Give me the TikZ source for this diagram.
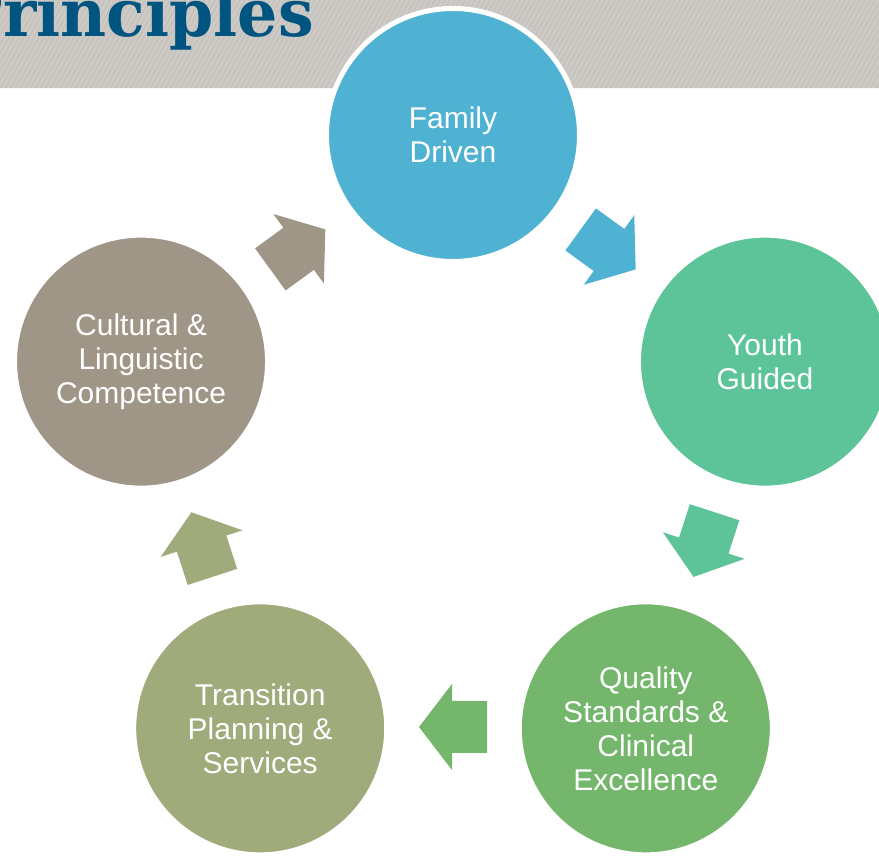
\documentclass[tikz,border=0pt]{standalone}
\usepackage{fontspec}
\setmainfont{Liberation Sans}
\newfontfamily\titlefont{DejaVu Serif}
\usetikzlibrary{calc}
\definecolor{cfam}{RGB}{79,178,210}
\definecolor{cyou}{RGB}{92,196,152}
\definecolor{cqua}{RGB}{116,183,108}
\definecolor{ctra}{RGB}{160,171,123}
\definecolor{ccul}{RGB}{160,150,135}
\definecolor{band}{RGB}{206,203,198}
\definecolor{bandline}{RGB}{186,183,178}
\definecolor{titleblue}{RGB}{0,84,128}
\tikzset{
  circ/.style={circle, minimum size=253pt, inner sep=0pt, draw=white, line width=5pt,
    text=white, align=center, font=\fontsize{30}{34}\selectfont},
  stripe/.style={bandline, line width=1.3pt, opacity=0.45},
}
\begin{document}
\begin{tikzpicture}[x=1pt,y=1pt]
\useasboundingbox (0,0) rectangle (879,857);
\clip (0,0) rectangle (879,857);
\fill[white] (0,0) rectangle (879,857);
% textured band
\fill[band] (0,768) rectangle (879,857);
\begin{scope}
\clip (0,768) rectangle (879,857);
\foreach \i in {-60,-55,...,880} \draw[stripe] (\i,768) -- ++(50,89);
\end{scope}
\draw[white!85!band, line width=1.5pt] (0,768.5) -- (879,768.5);
\node[anchor=base east, inner sep=0pt, text=titleblue, xscale=0.96,
  font=\titlefont\bfseries\fontsize{66}{70}\selectfont] (title) at (314,820) {Principles};
% circles
\coordinate (ctr) at (453,394);
\node[circ, fill=cfam] (fam) at ($(ctr)+(90:328)$) {Family\\Driven};
\node[circ, fill=cyou] (you) at ($(ctr)+(18:328)$) {Youth\\Guided};
\node[circ, fill=cqua] (qua) at ($(ctr)+(-54:328)$) {Quality\\Standards \&\\Clinical\\Excellence};
\node[circ, fill=ctra] (tra) at ($(ctr)+(-126:328)$) {Transition\\Planning \&\\Services};
\node[circ, fill=ccul] (cul) at ($(ctr)+(162:328)$) {Cultural \&\\Linguistic\\Competence};
% block arrows
\foreach \ang/\col in {54/cfam, -18/cyou, -90/cqua, 198/ctra, 126/ccul}{
  \fill[\col, shift={($(ctr)+(\ang:264)$)}, rotate=\ang-90]
    (-34,26) -- (1,26) -- (1,43) -- (34,0) -- (1,-43) -- (1,-26) -- (-34,-26) -- cycle;
}
\end{tikzpicture}
\end{document}
